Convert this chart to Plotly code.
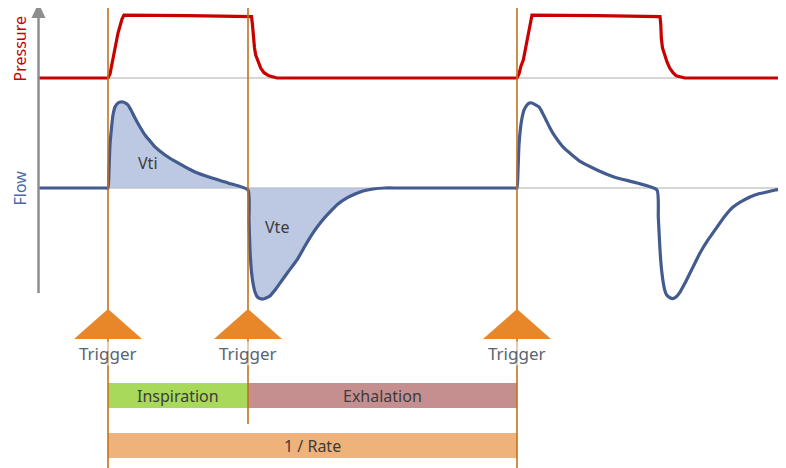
import plotly.graph_objects as go

# ---------------- data (time in s, pressure in cmH2O, flow in L/min) ----------------
pressure_t = [-0.70, 0.00, 0.02, 0.04, 0.06, 0.10, 0.14, 0.16, 0.80, 1.435, 1.445, 1.453, 1.465, 1.477,
              1.50, 1.527, 1.56, 1.61, 1.69,
              4.09, 4.11, 4.13, 4.153, 4.18, 4.203, 4.22, 4.24, 4.90, 5.52, 5.528, 5.533, 5.545, 5.567,
              5.59, 5.617, 5.65, 5.683, 5.77, 6.75]
pressure_v = [0.0, 0.0, 1.3, 4.5, 8.4, 14.5, 19.0, 20.3, 20.1, 19.8, 17.1, 12.9, 9.7, 7.4,
              5.2, 3.2, 1.7, 0.7, 0.0,
              0.0, 1.3, 3.9, 5.8, 10.3, 14.5, 18.1, 20.3, 20.1, 19.8, 17.1, 12.9, 9.7, 7.4,
              5.2, 3.2, 1.7, 0.7, 0.0, 0.0]

flow_t = [-0.70, -0.02, 0.00, 0.01, 0.02, 0.035, 0.05, 0.07, 0.10, 0.125, 0.15, 0.175, 0.20, 0.23, 0.27, 0.32,
          0.37, 0.42, 0.47, 0.57, 0.70, 0.87, 1.04, 1.20, 1.40,
          1.41, 1.42, 1.435, 1.45, 1.47, 1.495, 1.52, 1.55, 1.58, 1.62, 1.67, 1.72, 1.80, 1.89, 1.97,
          2.05, 2.13, 2.22, 2.30, 2.39, 2.47, 2.55, 2.65, 2.77, 2.90, 4.07,
          4.09, 4.10, 4.11, 4.125, 4.14, 4.16, 4.19, 4.215, 4.24, 4.27, 4.31, 4.34, 4.38, 4.42, 4.46,
          4.51, 4.56, 4.64, 4.73, 4.89, 5.06, 5.29, 5.49,
          5.503, 5.52, 5.535, 5.553, 5.57, 5.587, 5.62, 5.65, 5.68, 5.72, 5.77, 5.82, 5.87, 5.92, 6.00,
          6.09, 6.17, 6.25, 6.34, 6.42, 6.50, 6.59, 6.67, 6.75]
flow_v = [0.0, 0.0, 0.0, 12.9, 30.7, 42.9, 52.1, 57.9, 60.7, 61.4, 61.4, 60.7, 59.3, 55.7, 50.0, 43.6,
          37.9, 33.6, 29.3, 23.6, 17.9, 11.4, 7.1, 3.6, -1.4,
          -22.9, -44.3, -60.0, -67.9, -74.3, -77.9, -78.9, -79.3, -78.6, -77.1, -72.9, -67.9, -60.0, -51.4, -41.4,
          -32.1, -24.3, -17.1, -11.4, -7.1, -4.3, -2.1, -0.7, 0.0, 0.0, 0.0,
          0.0, 12.9, 30.7, 42.9, 50.0, 55.7, 59.3, 60.7, 60.7, 59.6, 57.9, 54.3, 48.6, 42.9, 37.9,
          32.9, 28.6, 23.6, 18.6, 12.9, 7.9, 3.6, -1.4,
          -20.7, -44.3, -58.0, -67.9, -73.6, -76.4, -78.4, -79.0, -77.9, -74.3, -67.9, -60.7, -53.6, -46.4, -37.1,
          -27.9, -20.0, -13.6, -9.3, -6.4, -4.3, -2.9, -1.4, -0.7]

trigger_t = [0.00, 1.40, 4.09]
trigger_labels = ["Trigger", "Trigger", "Trigger"]
phase_names = ["Inspiration", "Exhalation"]
phase_start = [0.00, 1.40]
phase_end = [1.40, 4.09]
rate_label = "1 / Rate"
rate_start, rate_end = 0.00, 4.09
volume_labels = ["Vti", "Vte"]
volume_label_t = [0.40, 1.69]
volume_label_flow = [17.9, -27.9]
fill_end_t = 2.90
axis_titles = ["Pressure", "Flow"]

# ---------------- geometry / style ----------------
PAGE_W, PAGE_H = 786, 468
OFF = 8                       # default body margin of the page
W, H = PAGE_W - OFF, PAGE_H - OFF
PX_PER_S = 100.0
T0_PX = 108.0                  # window column of t = 0
P_BASE_PX, P_SCALE = 78.0, 3.1     # window row of pressure baseline, px per cmH2O
F_BASE_PX, F_SCALE = 188.0, 1.4    # window row of flow baseline, px per L/min

def py(px):  # paper y from window pixel row
    return 1 - (px - OFF) / H

def pxx(px):  # paper x from window pixel column
    return (px - OFF) / W

def px_to_t(px):
    return (px - T0_PX) / PX_PER_S

RED = "#C80000"
BLUE = "#435B8E"
FILL = "rgba(178,191,222,0.85)"
VLINE = "#C2711F"
TRI = "#E8872A"
GREEN = "#A8D95A"
EXH = "#C58F8F"
RATE = "#EFB27A"
GRID = "#C9C9C9"
AXIS = "#8E8E8E"
TXT = "#3C3C3C"
FONT = "Noto Sans"

fig = go.Figure()

# filled areas for the first breath
fi = [i for i, t in enumerate(flow_t) if 0.0 <= t <= fill_end_t]
fig.add_trace(go.Scatter(x=[flow_t[i] for i in fi], y=[flow_v[i] for i in fi], yaxis="y2",
                         mode="lines", line=dict(width=0, shape="spline", smoothing=0.5),
                         fill="tozeroy", fillcolor=FILL, hoverinfo="skip", showlegend=False))

fig.add_trace(go.Scatter(x=pressure_t, y=pressure_v, mode="lines",
                         line=dict(color=RED, width=3.2), showlegend=False))
fig.add_trace(go.Scatter(x=flow_t, y=flow_v, yaxis="y2", mode="lines",
                         line=dict(color=BLUE, width=3.2, shape="spline", smoothing=0.5),
                         showlegend=False))

shapes = []
t_left, t_right = px_to_t(38), px_to_t(782)
# baselines
shapes.append(dict(type="line", xref="x", yref="y", x0=t_left, x1=t_right, y0=0, y1=0,
                   line=dict(color=GRID, width=1.5), layer="below"))
shapes.append(dict(type="line", xref="x", yref="y2", x0=t_left, x1=t_right, y0=0, y1=0,
                   line=dict(color=GRID, width=1.5), layer="below"))
# vertical axis arrow
ax = pxx(38.5)
shapes.append(dict(type="line", xref="paper", yref="paper", x0=ax, x1=ax, y0=py(293), y1=py(16),
                   line=dict(color=AXIS, width=2.5)))
shapes.append(dict(type="path", xref="paper", yref="paper",
                   path=f"M {pxx(31.5)} {py(18)} L {ax} {py(3)} L {pxx(45.5)} {py(18)} Z",
                   fillcolor=AXIS, line=dict(width=0)))
# trigger lines
line_bottoms = [468, 424, 468]
for t, b in zip(trigger_t, line_bottoms):
    shapes.append(dict(type="line", xref="x", yref="paper", x0=t, x1=t, y0=py(7), y1=py(b),
                       line=dict(color=VLINE, width=1.6)))
# phase bars
for s, e, c in zip(phase_start, phase_end, [GREEN, EXH]):
    shapes.append(dict(type="rect", xref="x", yref="paper", x0=s, x1=e, y0=py(408), y1=py(383),
                       fillcolor=c, line=dict(width=0), layer="below"))
shapes.append(dict(type="rect", xref="x", yref="paper", x0=rate_start, x1=rate_end, y0=py(458), y1=py(433),
                   fillcolor=RATE, line=dict(width=0), layer="below"))
# trigger triangles
half = 34 / PX_PER_S
for t in trigger_t:
    shapes.append(dict(type="path", xref="x", yref="paper",
                       path=f"M {t-half} {py(339)} L {t} {py(309)} L {t+half} {py(339)} Z",
                       fillcolor=TRI, line=dict(width=0)))

annotations = []
def ann(**kw):
    kw.setdefault("showarrow", False)
    kw.setdefault("xanchor", "center")
    kw.setdefault("yanchor", "middle")
    annotations.append(kw)

for t, lab in zip(trigger_t, trigger_labels):
    ann(x=t, y=py(353), xref="x", yref="paper", text=lab,
        font=dict(family=FONT, size=17, color="#5A6472"),
        bgcolor="rgba(255,255,255,0.55)", borderpad=0)
for s, e, n in zip(phase_start, phase_end, phase_names):
    ann(x=(s + e) / 2, y=py(396), xref="x", yref="paper", text=n,
        font=dict(family=FONT, size=16, color=TXT))
ann(x=(rate_start + rate_end) / 2, y=py(446), xref="x", yref="paper", text=rate_label,
    font=dict(family=FONT, size=16, color=TXT))
for t, f, lab in zip(volume_label_t, volume_label_flow, volume_labels):
    ann(x=t, y=f, xref="x", yref="y2", text=lab, font=dict(family=FONT, size=16, color=TXT))
ann(x=pxx(19.5), y=py(49), xref="paper", yref="paper", text=axis_titles[0], textangle=-90,
    font=dict(family=FONT, size=16, color=RED), borderpad=0)
ann(x=pxx(19.5), y=py(188), xref="paper", yref="paper", text=axis_titles[1], textangle=-90,
    font=dict(family=FONT, size=16, color="#4A6AA8"), borderpad=0)

fig.update_layout(
    width=W, height=H, margin=dict(l=0, r=0, t=0, b=0),
    paper_bgcolor="white", plot_bgcolor="white",
    xaxis=dict(range=[px_to_t(OFF), px_to_t(PAGE_W)], visible=False, fixedrange=True),
    yaxis=dict(range=[-(PAGE_H - P_BASE_PX) / P_SCALE, (P_BASE_PX - OFF) / P_SCALE], visible=False, domain=[0, 1]),
    yaxis2=dict(range=[-(PAGE_H - F_BASE_PX) / F_SCALE, (F_BASE_PX - OFF) / F_SCALE], visible=False,
                overlaying="y", side="right"),
    shapes=shapes, annotations=annotations, showlegend=False,
)

fig.write_html("out.html")
